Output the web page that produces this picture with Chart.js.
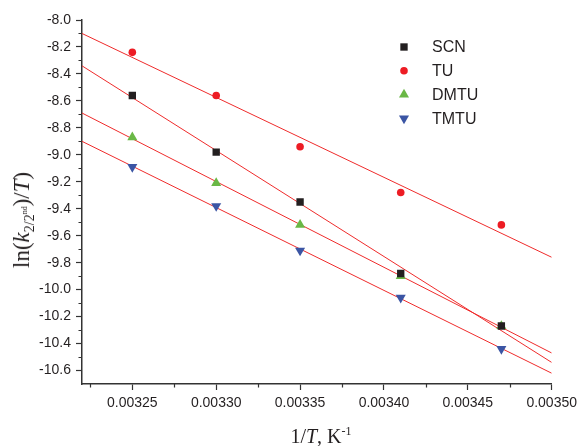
<!DOCTYPE html>
<html><head><meta charset="utf-8">
<script src="https://cdn.jsdelivr.net/npm/chart.js@4.4.0/dist/chart.umd.min.js"></script>
<style>
html,body{margin:0;padding:0;background:#fff;}
#wrap{position:relative;width:582px;height:446px;overflow:hidden;}
#c{position:absolute;left:0;top:0;}
.ttl{position:absolute;font-family:"Liberation Serif","Times New Roman",serif;color:#231f20;white-space:nowrap;}
#xt{left:321px;top:426px;font-size:20px;line-height:20px;transform:translateX(-50%);}
#yt{left:24px;top:220px;font-size:23px;line-height:23px;transform:translate(-50%,-50%) rotate(-90deg);}
.sb{font-size:14px;position:relative;top:5px;}
.sp{font-size:8px;position:relative;top:-7px;}
.xs{font-size:12px;position:relative;top:-8px;}
</style></head>
<body>
<div id="wrap">
<canvas id="c" width="582" height="446"></canvas>
<div id="xt" class="ttl">1/<i>T</i>, K<span class="xs">-1</span></div>
<div id="yt" class="ttl">ln(<i>k</i><span class="sb">2/2<span class="sp">nd</span></span>)/<i>T</i>)</div>
</div>
<script>
const xValues = [0.00325, 0.00330, 0.00335, 0.00341, 0.00347];
const seriesLabels = ['SCN', 'TU', 'DMTU', 'TMTU'];
const scnValues  = [-8.56, -8.98, -9.35, -9.88, -10.27];
const tuValues   = [-8.24, -8.56, -8.94, -9.28, -9.52];
const dmtuValues = [-8.87, -9.21, -9.52, -9.90, -10.27];
const tmtuValues = [-9.09, -9.38, -9.71, -10.06, -10.44];
const fitX    = [0.00322, 0.00350];
const fitSCN  = [-8.34, -10.54];
const fitTU   = [-8.10, -9.76];
const fitDMTU = [-8.69, -10.47];
const fitTMTU = [-8.90, -10.62];
const xTicks = [0.00325, 0.00330, 0.00335, 0.00340, 0.00345, 0.00350];
const yTicks = [-8.0, -8.2, -8.4, -8.6, -8.8, -9.0, -9.2, -9.4, -9.6, -9.8, -10.0, -10.2, -10.4, -10.6];
const xMinor = [0.003225, 0.003275, 0.003325, 0.003375, 0.003425, 0.003475];
const yMinor = [-8.1, -8.3, -8.5, -8.7, -8.9, -9.1, -9.3, -9.5, -9.7, -9.9, -10.1, -10.3, -10.5];

const axisColor = '#333333';
const lineColor = '#ef2b2b';
const styles = [
  {pointStyle:'rect', radius:5.2, rotation:0, color:'#231f20'},
  {pointStyle:'circle', radius:3.8, rotation:0, color:'#ed1c24'},
  {pointStyle:'triangle', radius:5.8, rotation:0, color:'#6ab846'},
  {pointStyle:'triangle', radius:5.8, rotation:180, color:'#3b55a4'}
];
const seriesValues = [scnValues, tuValues, dmtuValues, tmtuValues];
const fits = [fitSCN, fitTU, fitDMTU, fitTMTU];

const datasets = [];
seriesValues.forEach((vals, i) => {
  const s = styles[i];
  datasets.push({
    label: seriesLabels[i],
    data: xValues.map((x, j) => ({x: x, y: vals[j]})),
    showLine: false,
    pointStyle: s.pointStyle,
    rotation: s.rotation,
    pointRadius: s.radius,
    pointBackgroundColor: s.color,
    pointBorderColor: s.color,
    pointBorderWidth: 0,
    order: 0
  });
});
fits.forEach((f, i) => {
  datasets.push({
    label: seriesLabels[i] + ' fit',
    data: fitX.map((x, j) => ({x: x, y: f[j]})),
    showLine: true,
    borderColor: lineColor,
    borderWidth: 1,
    pointRadius: 0,
    fill: false,
    order: 1
  });
});

function drawMarker(ctx, style, x, y, r, rot) {
  ctx.beginPath();
  if (style === 'rect') {
    const h = Math.SQRT1_2 * r;
    ctx.rect(x - h, y - h, 2 * h, 2 * h);
  } else if (style === 'circle') {
    ctx.arc(x, y, r, 0, Math.PI * 2);
  } else {
    const base = (rot || 0) * Math.PI / 180 - Math.PI / 2;
    for (let k = 0; k < 3; k++) {
      const a = base + k * 2 * Math.PI / 3;
      const px = x + Math.cos(a) * r, py = y + Math.sin(a) * r;
      if (k === 0) ctx.moveTo(px, py); else ctx.lineTo(px, py);
    }
    ctx.closePath();
  }
  ctx.fill();
}

const extrasPlugin = {
  id: 'extras',
  afterDraw(chart) {
    const ctx = chart.ctx;
    const xs = chart.scales.x, ys = chart.scales.y;
    ctx.save();
    ctx.strokeStyle = axisColor;
    ctx.lineWidth = 1.2;
    ctx.beginPath();
    yMinor.forEach(v => {
      const p = Math.round(ys.getPixelForValue(v)) + 0.5;
      ctx.moveTo(xs.left, p); ctx.lineTo(xs.left - 3.5, p);
    });
    xMinor.forEach(v => {
      const p = Math.round(xs.getPixelForValue(v)) + 0.5;
      ctx.moveTo(p, ys.bottom); ctx.lineTo(p, ys.bottom + 3.5);
    });
    ctx.stroke();
    ctx.font = '16px "Liberation Sans", Arial, sans-serif';
    ctx.textBaseline = 'middle';
    ctx.textAlign = 'left';
    seriesLabels.forEach((lab, i) => {
      const s = styles[i];
      const ly = 47 + i * 23.8;
      ctx.fillStyle = s.color;
      drawMarker(ctx, s.pointStyle, 404, ly, s.radius, s.rotation);
      ctx.fillStyle = '#231f20';
      ctx.fillText(lab, 432, ly + 1);
    });
    ctx.restore();
  }
};

const tickFont = {family: '"Liberation Sans", Arial, sans-serif', size: 14};

new Chart(document.getElementById('c'), {
  type: 'scatter',
  data: {datasets: datasets},
  plugins: [extrasPlugin],
  options: {
    responsive: false,
    animation: false,
    devicePixelRatio: 1,
    layout: {padding: {top: 20, right: 28, left: 0, bottom: 0}},
    plugins: {legend: {display: false}, tooltip: {enabled: false}},
    scales: {
      x: {
        type: 'linear',
        min: 0.00322,
        max: 0.00350,
        afterBuildTicks: s => { s.ticks = xTicks.map(v => ({value: v})); },
        afterFit: s => { s.height = 62; },
        ticks: {
          font: tickFont, color: '#231f20', padding: 5, maxRotation: 0, autoSkip: false,
          callback: v => Number(v).toFixed(5)
        },
        grid: {display: true, drawOnChartArea: false, drawTicks: true, tickLength: 6, tickWidth: 1.2, tickColor: axisColor},
        border: {display: true, color: axisColor, width: 1.5}
      },
      y: {
        type: 'linear',
        min: -10.7,
        max: -8.0,
        afterBuildTicks: s => { s.ticks = yTicks.map(v => ({value: v})); },
        afterFit: s => { s.width = 82; },
        ticks: {
          font: tickFont, color: '#231f20', padding: 5, autoSkip: false,
          callback: v => Number(v).toFixed(1)
        },
        grid: {display: true, drawOnChartArea: false, drawTicks: true, tickLength: 6, tickWidth: 1.2, tickColor: axisColor},
        border: {display: true, color: axisColor, width: 1.5}
      }
    }
  }
});
</script>
</body></html>
